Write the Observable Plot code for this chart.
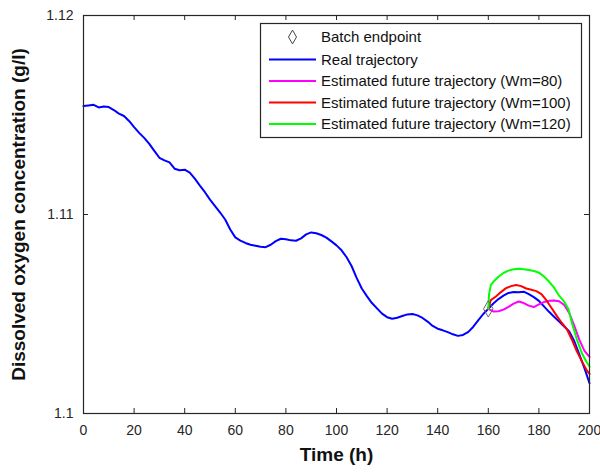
<!DOCTYPE html>
<html>
<head>
<meta charset="utf-8">
<script src="https://cdn.jsdelivr.net/npm/d3@7"></script>
<script src="https://cdn.jsdelivr.net/npm/@observablehq/plot@0.6"></script>
<style>
  html, body { margin: 0; padding: 0; background: #fff; }
  #chart { width: 600px; height: 475px; }
</style>
</head>
<body>
<div id="chart"></div>
<script>
// ---- data ----
const xTicks = [0, 20, 40, 60, 80, 100, 120, 140, 160, 180, 200];
const yTicks = [1.1, 1.11, 1.12];

const timeReal = [0,2,4,6,8,10,12,14,16,18,20,22,24,26,28,30,32,34,36,38,40,42,44,46,48,50,52,54,56,58,60,62,64,66,68,70,72,74,76,78,80,82,84,86,88,90,92,94,96,98,100,102,104,106,108,110,112,114,116,118,120,122,124,126,128,130,132,134,136,138,140,142,144,146,148,150,152,154,156,158,160,162,164,166,168,170,172,174,176,178,180,182,184,186,188,190,192,194,196,198,200];
const doReal = [1.11545,1.11548,1.11551,1.11538,1.11543,1.11540,1.11525,1.11507,1.11495,1.11470,1.11439,1.11410,1.11385,1.11355,1.11320,1.11285,1.11272,1.11262,1.11230,1.11222,1.11225,1.11210,1.11180,1.11145,1.11112,1.11075,1.11042,1.11010,1.10975,1.10925,1.10885,1.10869,1.10857,1.10848,1.10843,1.10838,1.10836,1.10848,1.10866,1.10878,1.10876,1.10870,1.10868,1.10880,1.10900,1.10910,1.10906,1.10897,1.10884,1.10865,1.10845,1.10820,1.10785,1.10740,1.10680,1.10628,1.10590,1.10555,1.10528,1.10502,1.10484,1.10476,1.10481,1.10490,1.10498,1.10500,1.10493,1.10480,1.10462,1.10440,1.10426,1.10418,1.10409,1.10398,1.10390,1.10395,1.10409,1.10435,1.10468,1.10500,1.10526,1.10553,1.10575,1.10592,1.10606,1.10610,1.10609,1.10612,1.10600,1.10585,1.10566,1.10538,1.10511,1.10486,1.10462,1.10437,1.10412,1.10363,1.10296,1.10228,1.10152];

const timeW80 = [160,162,164,166,168,170,172,174,176,178,180,182,184,186,188,190,192,194,196,198,200];
const doW80 = [1.10526,1.10513,1.10514,1.10522,1.10536,1.10552,1.10563,1.10555,1.10542,1.10535,1.10548,1.10560,1.10566,1.10568,1.10564,1.10545,1.10505,1.10440,1.10370,1.10315,1.10285];

const timeW100 = [160,161,163,165,167,169,171,173,175,177,179,181,183,185,187,189,191,193,195,197,199,200];
const doW100 = [1.10530,1.10570,1.10588,1.10610,1.10630,1.10640,1.10646,1.10640,1.10628,1.10622,1.10615,1.10600,1.10568,1.10530,1.10492,1.10456,1.10425,1.10372,1.10312,1.10262,1.10215,1.10199];

const timeW120 = [160,160.3,161,162,164,166,168,170,172,174,176,178,180,182,184,186,188,190,191.6,193,195,197,199,200];
const doW120 = [1.10526,1.10600,1.10645,1.10662,1.10687,1.10706,1.10718,1.10725,1.10727,1.10725,1.10721,1.10716,1.10708,1.10688,1.10663,1.10632,1.10592,1.10562,1.10526,1.10458,1.10372,1.10303,1.10255,1.10236];

const endpointTime = [160];
const endpointDO = [1.10526];

const legendLabels = ["Batch endpoint", "Real trajectory", "Estimated future trajectory (Wm=80)", "Estimated future trajectory (Wm=100)", "Estimated future trajectory (Wm=120)"];
const seriesColors = ["#0000ff", "#ff00ff", "#ff0000", "#00ff00"];

// ---- tables ----
const toRows = (ts, vs) => ts.map((t, i) => ({t, v: vs[i]}));
const real = toRows(timeReal, doReal);
const w80 = toRows(timeW80, doW80);
const w100 = toRows(timeW100, doW100);
const w120 = toRows(timeW120, doW120);
const endpoint = toRows(endpointTime, endpointDO);

// ---- layout ----
const W = 600, H = 475;
const mL = 83, mR = 11, mT = 15, mB = 62;
const innerW = W - mL - mR, innerH = H - mT - mB;
const tickLen = 5;
const axisColor = "#262626";
const font = "'Liberation Sans', Arial, Helvetica, sans-serif";

const chart = Plot.plot({
  width: W, height: H,
  marginLeft: mL, marginRight: mR, marginTop: mT, marginBottom: mB,
  style: {fontFamily: font, fontSize: "14px", color: axisColor, background: "#fff"},
  x: {domain: [0, 200]},
  y: {domain: [1.1, 1.12]},
  marks: [
    Plot.axisX(xTicks, {tickSize: 0, tickPadding: 12, fontSize: 14, label: null}),
    Plot.axisY(yTicks, {tickSize: 0, tickPadding: 10, fontSize: 14, label: null, tickFormat: d => String(+d.toFixed(2))}),
    // inward ticks on all four sides
    Plot.tickX(xTicks, {x: d => d, insetTop: innerH - tickLen, stroke: axisColor}),
    Plot.tickX(xTicks, {x: d => d, insetBottom: innerH - tickLen, stroke: axisColor}),
    Plot.tickY(yTicks, {y: d => d, insetRight: innerW - tickLen, stroke: axisColor}),
    Plot.tickY(yTicks, {y: d => d, insetLeft: innerW - tickLen, stroke: axisColor}),
    Plot.line(real, {x: "t", y: "v", stroke: seriesColors[0], strokeWidth: 2}),
    Plot.line(w80, {x: "t", y: "v", stroke: seriesColors[1], strokeWidth: 2}),
    Plot.line(w100, {x: "t", y: "v", stroke: seriesColors[2], strokeWidth: 2}),
    Plot.line(w120, {x: "t", y: "v", stroke: seriesColors[3], strokeWidth: 2}),
    Plot.dot(endpoint, {x: "t", y: "v", symbol: "diamond", r: 5, stroke: "#666", fill: "none", strokeWidth: 1}),
    Plot.frame({stroke: axisColor, strokeWidth: 1.2}),
    Plot.text(["Time (h)"], {frameAnchor: "bottom", textAnchor: "middle", dy: 47, fontSize: 19, fontWeight: "bold", fill: "#111"}),
    Plot.text(["Dissolved oxygen concentration (g/l)"], {frameAnchor: "left", textAnchor: "middle", dx: -65, rotate: -90, fontSize: 19, fontWeight: "bold", fill: "#111"})
  ]
});

document.getElementById("chart").appendChild(chart);

// ---- legend (inside the axes, upper right) ----
const svg = d3.select(chart);
const lg = svg.append("g").attr("font-family", font).attr("font-size", 15).attr("fill", "#111").attr("text-anchor", "start");
const box = {x: 260.5, y: 23.5, w: 321, h: 114};
lg.append("rect").attr("x", box.x).attr("y", box.y).attr("width", box.w).attr("height", box.h)
  .attr("fill", "#fff").attr("stroke", axisColor).attr("stroke-width", 1.2);
const rowY = [37, 59.5, 81, 102.5, 124];
const lineX1 = 269, lineX2 = 316, textX = 321;
// endpoint entry: diamond symbol
lg.append("path")
  .attr("d", d3.symbol(d3.symbolDiamond, 55)())
  .attr("transform", `translate(${(lineX1 + lineX2) / 2},${rowY[0]})`)
  .attr("fill", "none").attr("stroke", "#444").attr("stroke-width", 1);
for (let i = 1; i < 5; i++) {
  lg.append("line").attr("x1", lineX1).attr("x2", lineX2).attr("y1", rowY[i]).attr("y2", rowY[i])
    .attr("stroke", seriesColors[i - 1]).attr("stroke-width", 2);
}
legendLabels.forEach((lab, i) => {
  lg.append("text").attr("x", textX).attr("y", rowY[i]).attr("dy", "0.35em").attr("text-anchor", "start").text(lab);
});
</script>
</body>
</html>
